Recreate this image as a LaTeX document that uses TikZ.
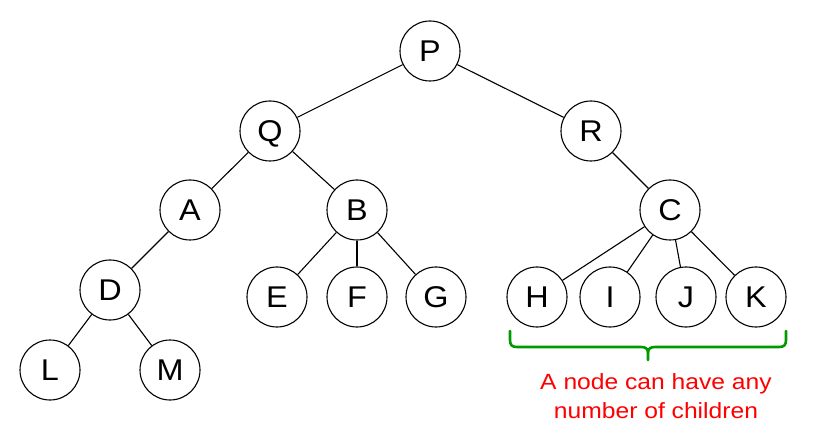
\documentclass[tikz,border=0pt]{standalone}
\usepackage{fontspec}
\setmainfont{Liberation Sans}
\newfontfamily\notefont[FakeStretch=1.12]{Liberation Sans}
\newfontfamily\letterfont[FakeStretch=1.08]{Liberation Sans}
\definecolor{bracegreen}{RGB}{0,153,0}
\definecolor{notered}{RGB}{255,0,0}
\tikzset{
  treenode/.style={circle,draw=black,line width=1.1pt,fill=white,minimum size=60pt,inner sep=0pt,
    font=\letterfont\fontsize{30}{36}\selectfont,text height=21.5pt,text depth=0pt},
  edge/.style={draw=black,line width=1.1pt},
  bracestyle/.style={draw=bracegreen,line width=2.6pt,line cap=round,line join=round},
  notetext/.style={text=notered,font=\notefont\fontsize{22}{29.5}\selectfont,align=center,inner sep=0pt}
}
\begin{document}
\begin{tikzpicture}[x=1pt,y=-1pt]
\useasboundingbox (0,0) rectangle (827,446);
\node[treenode] (P) at (430,51) {P};
\node[treenode] (Q) at (270,131) {Q};
\node[treenode] (R) at (591,131) {R};
\node[treenode] (A) at (190,210) {A};
\node[treenode] (B) at (357,210) {B};
\node[treenode] (C) at (670,210) {C};
\node[treenode] (D) at (110,290) {D};
\node[treenode] (E) at (277,297) {E};
\node[treenode] (F) at (357,297) {F};
\node[treenode] (G) at (436,297) {G};
\node[treenode] (H) at (537,297) {H};
\node[treenode] (I) at (610,297) {I};
\node[treenode] (J) at (686,297) {J};
\node[treenode] (K) at (756,297) {K};
\node[treenode] (L) at (50,370) {L};
\node[treenode] (M) at (170,370) {M};
\draw[edge] (P) -- (Q);
\draw[edge] (P) -- (R);
\draw[edge] (Q) -- (A);
\draw[edge] (Q) -- (B);
\draw[edge] (R) -- (C);
\draw[edge] (A) -- (D);
\draw[edge] (B) -- (E);
\draw[edge] (B) -- (F);
\draw[edge] (B) -- (G);
\draw[edge] (C) -- (H);
\draw[edge] (C) -- (I);
\draw[edge] (C) -- (J);
\draw[edge] (C) -- (K);
\draw[edge] (D) -- (L);
\draw[edge] (D) -- (M);
% curly brace
\coordinate (bl) at (510,331);
\coordinate (br) at (786,331);
\coordinate (bt) at (648,360);
\draw[bracestyle] (bl) -- (510,340) .. controls (510,345) and (512,347) .. (517,347)
  -- (641,347) .. controls (646,347) and (648,349) .. (648,353) -- (bt);
\draw[bracestyle] (br) -- (786,340) .. controls (786,345) and (784,347) .. (779,347)
  -- (655,347) .. controls (650,347) and (648,349) .. (648,353);
\node[notetext,anchor=north] (note) at (656,373.2) {A node can have any\\number of children};
\end{tikzpicture}
\end{document}
